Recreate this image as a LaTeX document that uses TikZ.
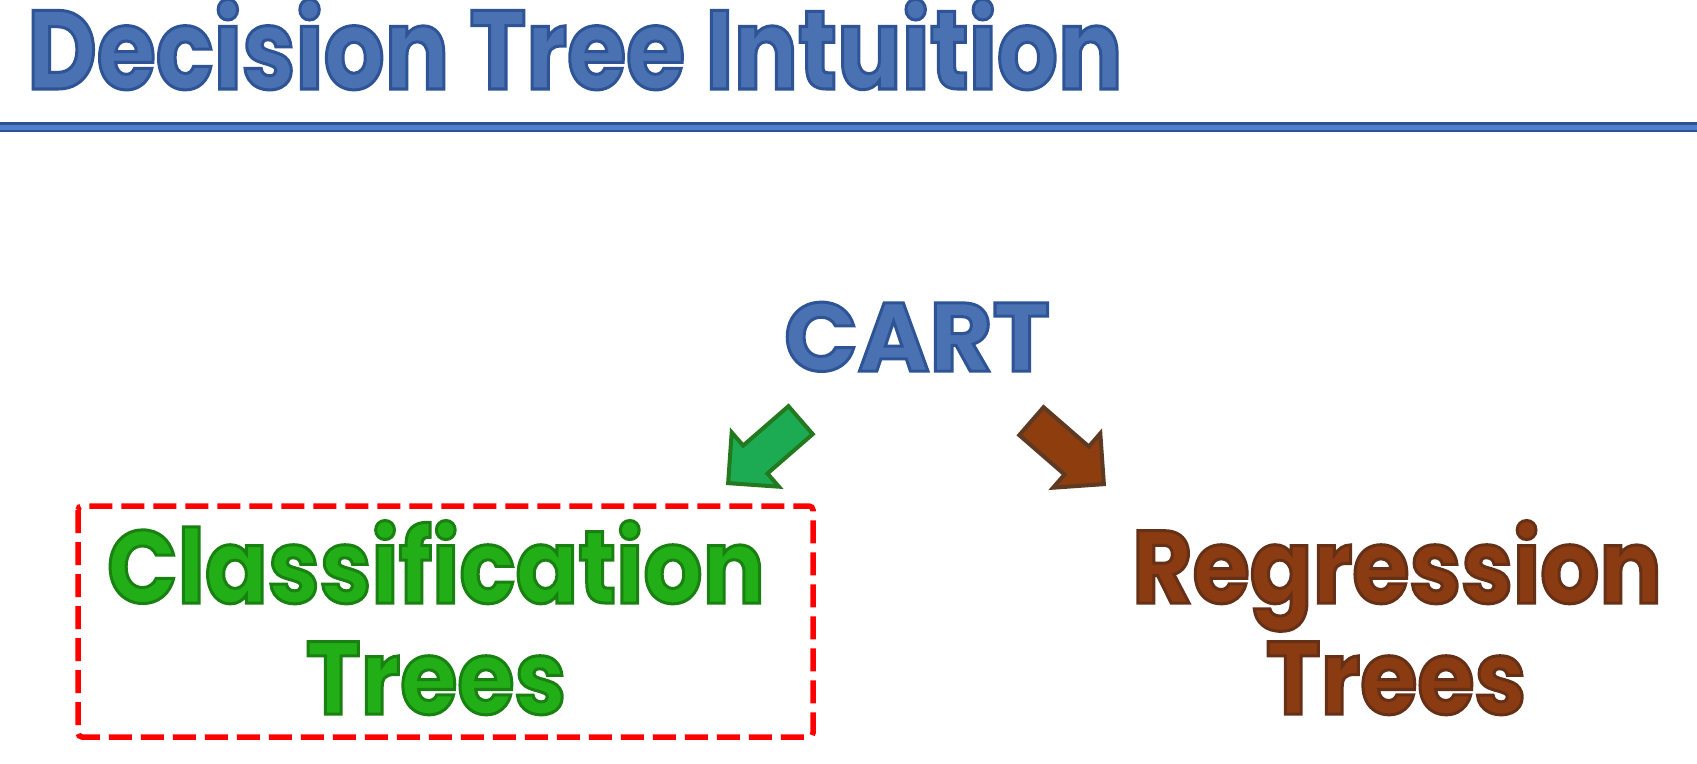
\documentclass[tikz,border=0pt]{standalone}
\usepackage{fontspec}
\setmainfont{Poppins}
\newfontfamily\headfont[FakeStretch=0.855]{Poppins}
\newfontfamily\bodyfont[FakeStretch=0.9]{Poppins}
\usetikzlibrary{shapes.arrows}

\definecolor{titleblue}{HTML}{4A72B2}
\definecolor{rulelight}{HTML}{4F7FD0}
\definecolor{ruledark}{HTML}{2F528F}
\definecolor{classgreen}{HTML}{22AE16}
\definecolor{arrowgreen}{HTML}{1CAA52}
\definecolor{arrowgreenedge}{HTML}{237A1E}
\definecolor{regbrown}{HTML}{8A3B12}
\definecolor{arrowbrown}{HTML}{8E3D0E}
\definecolor{arrowbrownedge}{HTML}{5E3A22}
\definecolor{boxred}{HTML}{FF0000}

% stroke colours as rgb triples for the outline
\newcommand{\titleedge}{0.18 0.33 0.59}
\newcommand{\classedge}{0.10 0.50 0.07}
\newcommand{\regedge}{0.40 0.19 0.09}
\newcommand{\outlined}[3]{\textcolor{#1}{\special{pdf:literal direct #2 RG 2 Tr 3 w}#3\special{pdf:literal direct 0 Tr}}}

\begin{document}
\begin{tikzpicture}[x=1pt, y=-1pt]
\tikzstyle{headtext}=[anchor=base west, inner sep=0pt]
\tikzstyle{bigtext}=[anchor=base, inner sep=0pt]
\tikzstyle{blockarrow}=[single arrow, single arrow tip angle=90, single arrow head extend=17.5pt, minimum height=96pt, inner xsep=0pt, inner ysep=16.5pt, line width=4pt, line join=miter, anchor=tip]

\useasboundingbox (0,0) rectangle (1697,763);
\fill[white] (0,0) rectangle (1697,763);

% title and rule
\node[headtext] (title) at (27,89) {\headfont\bfseries\fontsize{112}{120}\selectfont\outlined{titleblue}{\titleedge}{Decision Tree Intuition}};
\draw[ruledark, line width=10pt] (0,127) -- (1697,127);
\draw[rulelight, line width=5pt] (0,127) -- (1697,127);

% labels
\node[bigtext] (cart) at (917,371) {\bfseries\fontsize{97}{100}\selectfont\outlined{titleblue}{\titleedge}{CART}};
\node[bigtext] (classif) at (436,603) {\bodyfont\bfseries\fontsize{103}{110}\selectfont\outlined{classgreen}{\classedge}{Classification}};
\node[bigtext] (classtrees) at (436,714) {\bodyfont\bfseries\fontsize{103}{110}\selectfont\outlined{classgreen}{\classedge}{Trees}};
\node[bigtext] (regress) at (1397,603) {\bodyfont\bfseries\fontsize{103}{110}\selectfont\outlined{regbrown}{\regedge}{Regression}};
\node[bigtext] (regtrees) at (1396,714) {\bodyfont\bfseries\fontsize{103}{110}\selectfont\outlined{regbrown}{\regedge}{Trees}};

% block arrows
\node[blockarrow, fill=arrowgreen, draw=arrowgreenedge, rotate=221] (toclass) at (726,485) {};
\node[blockarrow, fill=arrowbrown, draw=arrowbrownedge, rotate=-41] (toreg) at (1106,486) {};

% highlight box
\draw[boxred, line width=5.5pt, dash pattern=on 23pt off 9pt, rounded corners=4pt] (78,506) rectangle (813,737);
\end{tikzpicture}
\end{document}
